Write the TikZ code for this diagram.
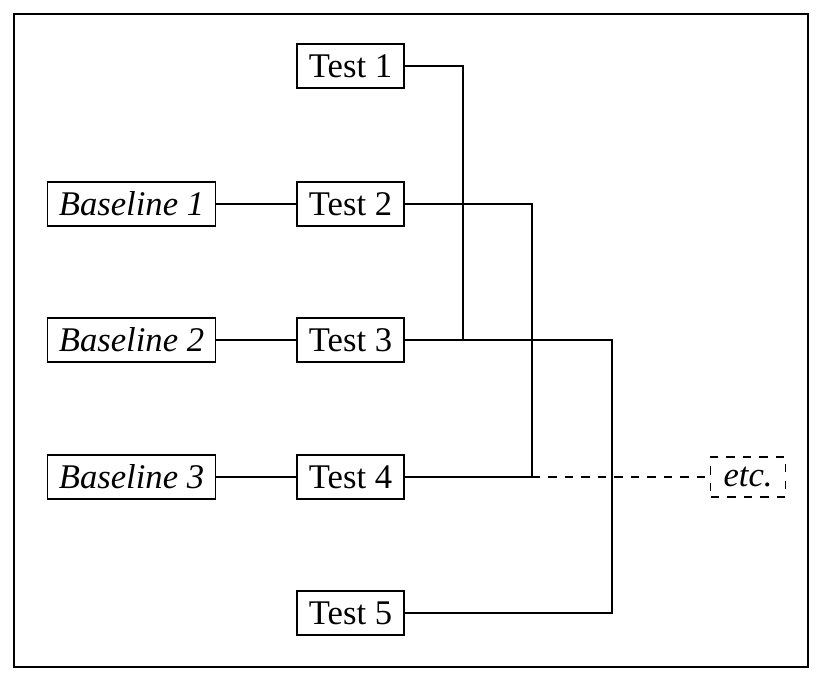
\documentclass[tikz,border=0pt]{standalone}
\usepackage{fontspec}
\setmainfont{Liberation Serif}
\usetikzlibrary{positioning}

\begin{document}
\begin{tikzpicture}[x=0.0128cm, y=-0.0128cm,
    every node/.style={font=\fontsize{12.6}{14}\selectfont},
    test/.style={draw, inner sep=0pt, minimum width=39pt, minimum height=16pt},
    base/.style={test, minimum width=61.5pt, font=\fontsize{12.6}{14}\selectfont\itshape},
    link/.style={thin}]

    % Rahmen
    \useasboundingbox (0,0) rectangle (823,681);
    \draw[thick] (14,14) rectangle (808,667);

    % Knoten
    \node[test] (t1) at (350.5,66) {Test 1};
    \node[test] (t2) at (350.5,204) {Test 2};
    \node[test] (t3) at (350.5,340) {Test 3};
    \node[test] (t4) at (350.5,477) {Test 4};
    \node[test] (t5) at (350.5,613) {Test 5};
    \node[base] (b1) at (131.5,204) {Baseline 1};
    \node[base] (b2) at (131.5,340) {Baseline 2};
    \node[base] (b3) at (131.5,477) {Baseline 3};
    \node[test, dashed, minimum width=27pt, minimum height=14.6pt,
          font=\fontsize{12.6}{14}\selectfont\itshape] (etc) at (748,477) {etc.};

    % Knickpunkte
    \coordinate (k1) at (463,340);
    \coordinate (k2) at (532,477);
    \coordinate (k3) at (612,340);

    % Verbindungen
    \draw[link] (b1) -- (t2);
    \draw[link] (b2) -- (t3);
    \draw[link] (b3) -- (t4);
    \draw[link] (t1.east) -| (k1);
    \draw[link] (t2.east) -| (k2);
    \draw[link] (t3.east) -- (k3) |- (t5.east);
    \draw[link] (t4.east) -- (k2);
    \draw[link, dashed] (k2) -- (etc.west);

\end{tikzpicture}
\end{document}
